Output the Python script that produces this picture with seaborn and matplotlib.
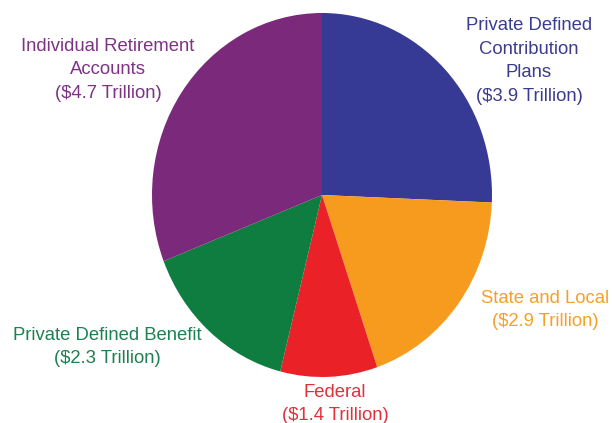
import matplotlib
matplotlib.use("Agg")
import matplotlib.pyplot as plt
import seaborn as sns

# Retirement assets by type (trillions of dollars)
categories = [
    "Private Defined\nContribution\nPlans",
    "State and Local",
    "Federal",
    "Private Defined Benefit",
    "Individual Retirement\nAccounts",
]
values = [3.9, 2.9, 1.4, 2.3, 4.7]
value_labels = [f"(${v} Trillion)" for v in values]

slice_colors = ["#363a94", "#f79b1f", "#ea2127", "#0f7d40", "#7b297a"]
text_colors = ["#3b3c90", "#f5a02a", "#e0303a", "#1d8052", "#7d3384"]

sns.set_theme(style="white")
plt.rcParams["font.family"] = ["Liberation Sans", "DejaVu Sans"]
palette = sns.color_palette(slice_colors)

fig = plt.figure(figsize=(6.12, 4.23), dpi=100)
ax = fig.add_axes([0, 0, 1, 1])
ax.pie(values, colors=palette, startangle=90, counterclock=False,
       radius=1.0, center=(0, 0), wedgeprops=dict(linewidth=0))
# slightly taller-than-wide pie
ax.set_aspect("auto")
ax.set_xlim(-322 / 170, (612 - 322) / 170)
ax.set_ylim((195 - 423) / 182, 195 / 182)
ax.axis("off")

# label anchor positions (pixels, centre of text block)
W, H = 612, 423
label_pos = [(529, 61), (545, 310), (335, 404), (107, 347), (108, 70)]
for name, vlab, col, (px, py) in zip(categories, value_labels, text_colors, label_pos):
    fig.text(px / W, 1 - py / H, f"{name}\n{vlab}", color=col,
             ha="center", va="center", fontsize=13.3, linespacing=1.5)

fig.savefig("out.png", dpi=100, facecolor="white")
